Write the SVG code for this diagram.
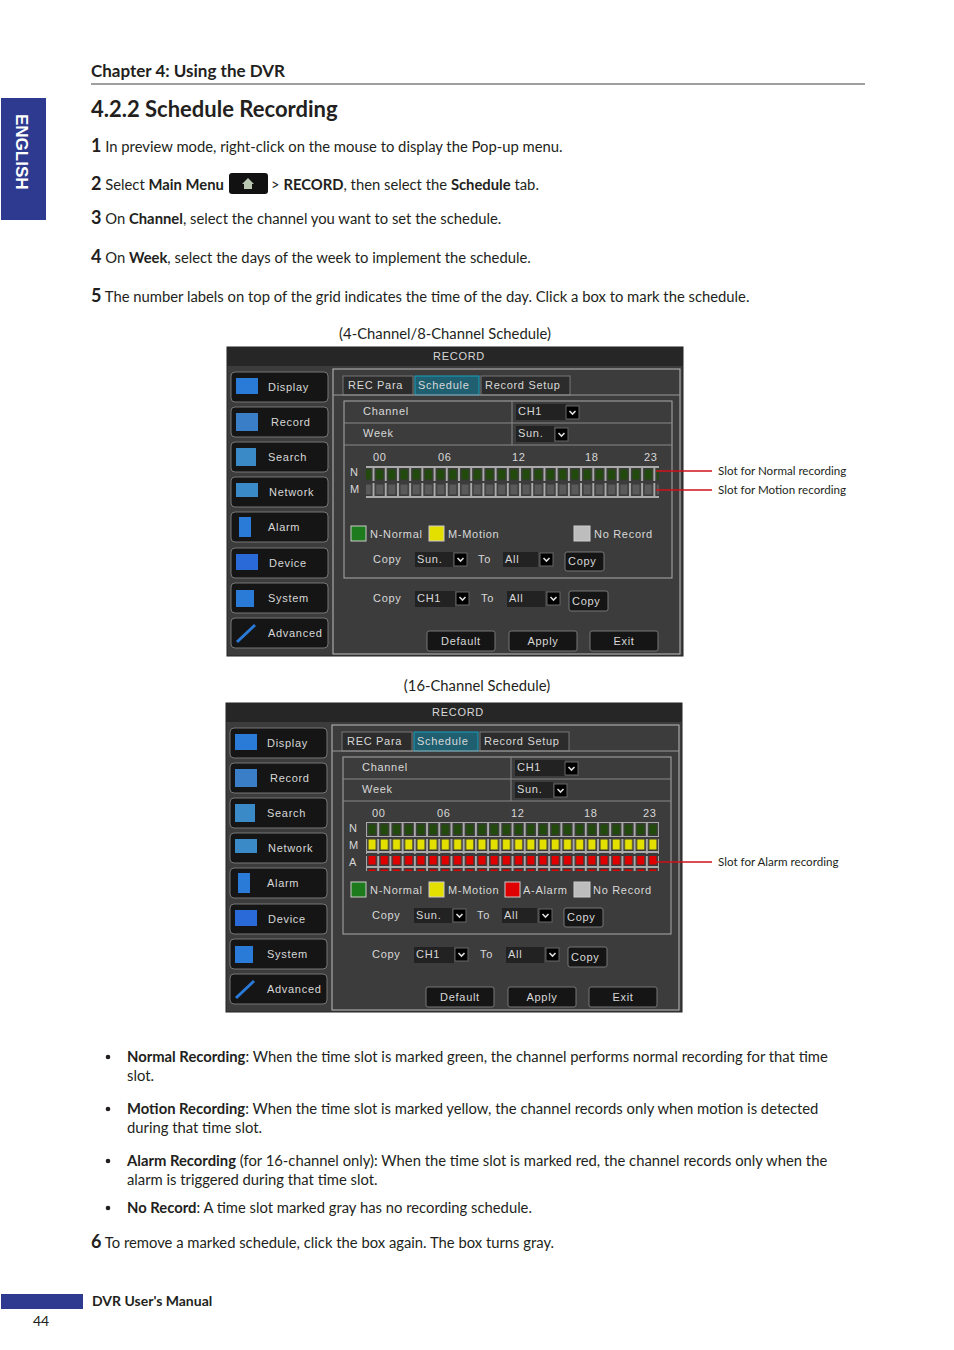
<svg xmlns="http://www.w3.org/2000/svg" width="954" height="1350" viewBox="0 0 954 1350">
<style>
.t{font-family:Lato,"Open Sans",sans-serif;font-size:14.8px;fill:#231f20}
.n{font-family:Lato,sans-serif;font-size:18px;font-weight:bold;fill:#231f20}
.b{font-weight:bold}
.s{font-family:"Liberation Sans",Arial,sans-serif;font-size:11px;fill:#d8d8d8;letter-spacing:0.7px}
.sc{text-anchor:middle}
.btn{fill:#151515;stroke:#777;stroke-width:1}
.dd{fill:#222}
.ann{font-family:Lato,sans-serif;font-size:11.6px;fill:#231f20}
</style>
<defs>
<linearGradient id="bg" x1="0" y1="0" x2="0" y2="1"><stop offset="0" stop-color="#5a5a5a"/><stop offset="0.5" stop-color="#1c1c1c"/><stop offset="1" stop-color="#000"/></linearGradient>
<pattern id="pg" patternUnits="userSpaceOnUse" width="12.21" height="15"><rect width="12.21" height="15" fill="#aaa"/><rect x="1" y="1" width="10.2" height="13" fill="#3a3a3a"/><rect x="2.5" y="2.5" width="7.2" height="10" fill="#224a0c"/></pattern>
<pattern id="pm" patternUnits="userSpaceOnUse" width="12.21" height="15"><rect width="12.21" height="15" fill="#aaa"/><rect x="1" y="1" width="10.2" height="13" fill="#3a3a3a"/><rect x="2.5" y="2.5" width="7.2" height="10" fill="#5a5a5a"/></pattern>
<pattern id="py" patternUnits="userSpaceOnUse" width="12.21" height="15"><rect width="12.21" height="15" fill="#aaa"/><rect x="1" y="1" width="10.2" height="13" fill="#3a3a3a"/><rect x="2.5" y="2.5" width="7.2" height="10" fill="#e3e000"/></pattern>
<pattern id="pr" patternUnits="userSpaceOnUse" width="12.21" height="15"><rect width="12.21" height="15" fill="#aaa"/><rect x="1" y="1" width="10.2" height="13" fill="#3a3a3a"/><rect x="2.5" y="2.5" width="7.2" height="10" fill="#e00000"/></pattern>
<g id="chev"><rect width="13" height="13" fill="#000" stroke="#666"/><path d="M3.5,5 L6.5,8 L9.5,5" fill="none" stroke="#ddd" stroke-width="1.6"/></g>
<g id="chrome">
<rect x="0" y="0" width="456" height="309" fill="#3c3c3c" stroke="#222"/>
<rect x="0" y="0" width="456" height="19" fill="#262626"/>
<text class="s sc" x="232" y="13">RECORD</text>
<rect x="106" y="22" width="347" height="285" fill="none" stroke="#bbb"/>
<g id="btns">
<rect class="btn" x="4" y="25" width="97" height="30" rx="4" fill="url(#bg)"/><rect x="9" y="31" width="22" height="16" fill="#2a7ad8"/><text class="s" x="41" y="44">Display</text>
<rect class="btn" x="4" y="60" width="97" height="30" rx="4" fill="url(#bg)" stroke="#1c9ec0"/><rect x="9" y="66" width="22" height="18" fill="#3a7ec8"/><text class="s" x="44" y="79">Record</text>
<rect class="btn" x="4" y="95" width="97" height="30" rx="4" fill="url(#bg)"/><rect x="9" y="101" width="20" height="18" fill="#3a8ac8"/><text class="s" x="41" y="114">Search</text>
<rect class="btn" x="4" y="130" width="97" height="30" rx="4" fill="url(#bg)" stroke="#1c9ec0"/><rect x="9" y="136" width="22" height="14" fill="#3a8ac8"/><text class="s" x="42" y="149">Network</text>
<rect class="btn" x="4" y="165" width="97" height="30" rx="4" fill="url(#bg)"/><rect x="12" y="170" width="12" height="20" fill="#2a7ad8"/><text class="s" x="41" y="184">Alarm</text>
<rect class="btn" x="4" y="201" width="97" height="30" rx="4" fill="url(#bg)"/><rect x="9" y="207" width="22" height="16" fill="#2a6ad8"/><text class="s" x="42" y="220">Device</text>
<rect class="btn" x="4" y="236" width="97" height="30" rx="4" fill="url(#bg)"/><rect x="9" y="243" width="18" height="17" fill="#2a7ad8"/><text class="s" x="41" y="255">System</text>
<rect class="btn" x="4" y="271" width="97" height="30" rx="4" fill="url(#bg)" stroke="#1c9ec0"/><path d="M10,295 L28,278" stroke="#2a7ad8" stroke-width="3"/><text class="s" x="41" y="290">Advanced</text>
</g>
<rect x="116" y="29" width="70" height="19" fill="#2c2c2c" stroke="#777"/><text class="s" x="121" y="42">REC Para</text>
<rect x="188" y="29" width="64" height="19" fill="#1f5f70" stroke="#1aa0c0"/><text class="s" x="191" y="42">Schedule</text>
<rect x="254" y="29" width="89" height="19" fill="#2c2c2c" stroke="#777"/><text class="s" x="258" y="42">Record Setup</text>
<line x1="106" y1="48" x2="453" y2="48" stroke="#999"/>
<rect x="117" y="54" width="328" height="177" fill="none" stroke="#aaa"/>
<line x1="117" y1="76" x2="445" y2="76" stroke="#888"/><line x1="117" y1="98" x2="445" y2="98" stroke="#888"/><line x1="285" y1="54" x2="285" y2="98" stroke="#888"/>
<text class="s" x="136" y="68">Channel</text><text class="s" x="136" y="90">Week</text>
<rect class="dd" x="289" y="57" width="50" height="16"/><text class="s" x="291" y="68">CH1</text><use href="#chev" x="339" y="59"/>
<rect class="dd" x="289" y="79" width="38" height="16"/><text class="s" x="291" y="90">Sun.</text><use href="#chev" x="328" y="81"/>
<text class="s" x="146" y="114">00</text><text class="s" x="211" y="114">06</text><text class="s" x="285" y="114">12</text><text class="s" x="358" y="114">18</text><text class="s" x="417" y="114">23</text>
<text class="s" x="146" y="216">Copy</text>
<rect class="dd" x="188" y="205" width="38" height="15"/><text class="s" x="190" y="216">Sun.</text><use href="#chev" x="227" y="206"/>
<text class="s" x="251" y="216">To</text>
<rect class="dd" x="276" y="205" width="35" height="15"/><text class="s" x="278" y="216">All</text><use href="#chev" x="313" y="206"/>
<rect class="btn" x="338" y="205" width="39" height="19" rx="2"/><text class="s" x="341" y="218">Copy</text>
<text class="s" x="146" y="255">Copy</text>
<rect class="dd" x="188" y="244" width="40" height="16"/><text class="s" x="190" y="255">CH1</text><use href="#chev" x="229" y="245"/>
<text class="s" x="254" y="255">To</text>
<rect class="dd" x="280" y="244" width="38" height="16"/><text class="s" x="282" y="255">All</text><use href="#chev" x="320" y="245"/>
<rect class="btn" x="342" y="244" width="39" height="20" rx="2"/><text class="s" x="345" y="258">Copy</text>
<rect class="btn" x="200" y="284" width="68" height="20" rx="2" fill="url(#bg)"/><text class="s sc" x="234" y="298">Default</text>
<rect class="btn" x="282" y="284" width="68" height="20" rx="2" fill="url(#bg)"/><text class="s sc" x="316" y="298">Apply</text>
<rect class="btn" x="363" y="284" width="68" height="20" rx="2" fill="url(#bg)"/><text class="s sc" x="397" y="298">Exit</text>
</g>
</defs>

<g id="header">
<text x="91" y="77" style="font-family:Lato,sans-serif;font-size:17px;font-weight:bold;fill:#231f20">Chapter 4: Using the DVR</text>
<line x1="91" y1="84" x2="865" y2="84" stroke="#808080" stroke-width="1.5"/>
<rect x="1" y="98" width="45" height="122" fill="#2e3a8f"/>
<text transform="translate(16,114) rotate(90)" style="font-family:'Liberation Sans',sans-serif;font-size:17px;font-weight:bold;fill:#fff">ENGLISH</text>
<text x="91" y="117" style="font-family:Lato,sans-serif;font-size:22px;font-weight:bold;fill:#231f20">4.2.2 Schedule Recording</text>
</g>

<g id="steps">
<text class="t" x="91" y="152"><tspan class="n">1</tspan> In preview mode, right-click on the mouse to display the Pop-up menu.</text>
<text class="t" x="91" y="190"><tspan class="n">2</tspan> Select <tspan class="b">Main Menu</tspan></text>
<rect x="229" y="173" width="39" height="21" rx="3" fill="#111"/><path d="M242,184 L248,178 L254,184 L252,184 L252,189 L244,189 L244,184 Z" fill="#b9c7b0"/>
<text class="t" x="271" y="190">&gt; <tspan class="b">RECORD</tspan>, then select the <tspan class="b">Schedule</tspan> tab.</text>
<text class="t" x="91" y="224"><tspan class="n">3</tspan> On <tspan class="b">Channel</tspan>, select the channel you want to set the schedule.</text>
<text class="t" x="91" y="263"><tspan class="n">4</tspan> On <tspan class="b">Week</tspan>, select the days of the week to implement the schedule.</text>
<text class="t" x="91" y="302"><tspan class="n">5</tspan> The number labels on top of the grid indicates the time of the day. Click a box to mark the schedule.</text>
<text class="t" x="445" y="339" text-anchor="middle">(4-Channel/8-Channel Schedule)</text>
<text class="t" x="477" y="691" text-anchor="middle">(16-Channel Schedule)</text>
</g>

<g id="screen1" transform="translate(227,347)">
<use href="#chrome"/>
<text class="s" x="123" y="129">N</text><text class="s" x="123" y="146">M</text>
<rect x="139" y="119" width="293" height="15" fill="url(#pg)"/>
<rect x="139" y="136" width="293" height="15" fill="url(#pm)"/>
<rect x="124" y="179" width="15" height="15" fill="#1d7a1d" stroke="#ccc"/><text class="s" x="143" y="191">N-Normal</text>
<rect x="202" y="179" width="15" height="15" fill="#e3e000" stroke="#ccc"/><text class="s" x="221" y="191">M-Motion</text>
<rect x="347" y="179" width="16" height="15" fill="#bdbdbd" stroke="#ccc"/><text class="s" x="367" y="191">No Record</text>
</g>

<g id="screen2" transform="translate(226,703)">
<use href="#chrome"/>
<text class="s" x="123" y="129">N</text><text class="s" x="123" y="146">M</text><text class="s" x="123" y="163">A</text>
<g transform="translate(140,119)">
<rect width="293" height="15" fill="url(#pg)"/>
<rect y="17" width="293" height="15" fill="url(#py)"/>
<rect y="34" width="293" height="15" fill="url(#pr)"/>
</g>
<rect x="125" y="179" width="15" height="15" fill="#1d7a1d" stroke="#ccc"/><text class="s" x="144" y="191">N-Normal</text>
<rect x="203" y="179" width="15" height="15" fill="#e3e000" stroke="#ccc"/><text class="s" x="222" y="191">M-Motion</text>
<rect x="279" y="179" width="15" height="15" fill="#e00000" stroke="#ccc"/><text class="s" x="297" y="191">A-Alarm</text>
<rect x="348" y="179" width="16" height="15" fill="#bdbdbd" stroke="#ccc"/><text class="s" x="367" y="191">No Record</text>
</g>

<g id="connectors" stroke="#d0101a" stroke-width="1.3">
<line x1="656" y1="471" x2="712" y2="471"/>
<line x1="656" y1="490" x2="712" y2="490"/>
<line x1="655" y1="862" x2="712" y2="862"/>
</g>
<g id="annotations">
<text class="ann" x="718" y="475">Slot for Normal recording</text>
<text class="ann" x="718" y="494">Slot for Motion recording</text>
<text class="ann" x="718" y="866">Slot for Alarm recording</text>
</g>

<g id="bullets">
<circle cx="108" cy="1057" r="2.3" fill="#231f20"/><circle cx="108" cy="1109" r="2.3" fill="#231f20"/><circle cx="108" cy="1161" r="2.3" fill="#231f20"/><circle cx="108" cy="1208" r="2.3" fill="#231f20"/>
<text class="t" x="127" y="1062"><tspan class="b">Normal Recording</tspan>: When the time slot is marked green, the channel performs normal recording for that time</text>
<text class="t" x="127" y="1081">slot.</text>
<text class="t" x="127" y="1114"><tspan class="b">Motion Recording</tspan>: When the time slot is marked yellow, the channel records only when motion is detected</text>
<text class="t" x="127" y="1133">during that time slot.</text>
<text class="t" x="127" y="1166"><tspan class="b">Alarm Recording</tspan> (for 16-channel only): When the time slot is marked red, the channel records only when the</text>
<text class="t" x="127" y="1185">alarm is triggered during that time slot.</text>
<text class="t" x="127" y="1213"><tspan class="b">No Record</tspan>: A time slot marked gray has no recording schedule.</text>
<text class="t" x="91" y="1248"><tspan class="n">6</tspan> To remove a marked schedule, click the box again. The box turns gray.</text>
</g>

<g id="footer">
<rect x="1" y="1294" width="82" height="15" fill="#2e3a8f"/>
<text x="92" y="1306" style="font-family:Lato,sans-serif;font-size:14px;font-weight:bold;fill:#231f20">DVR User's Manual</text>
<text x="33" y="1326" style="font-family:Lato,sans-serif;font-size:14px;fill:#231f20">44</text>
</g>
</svg>
